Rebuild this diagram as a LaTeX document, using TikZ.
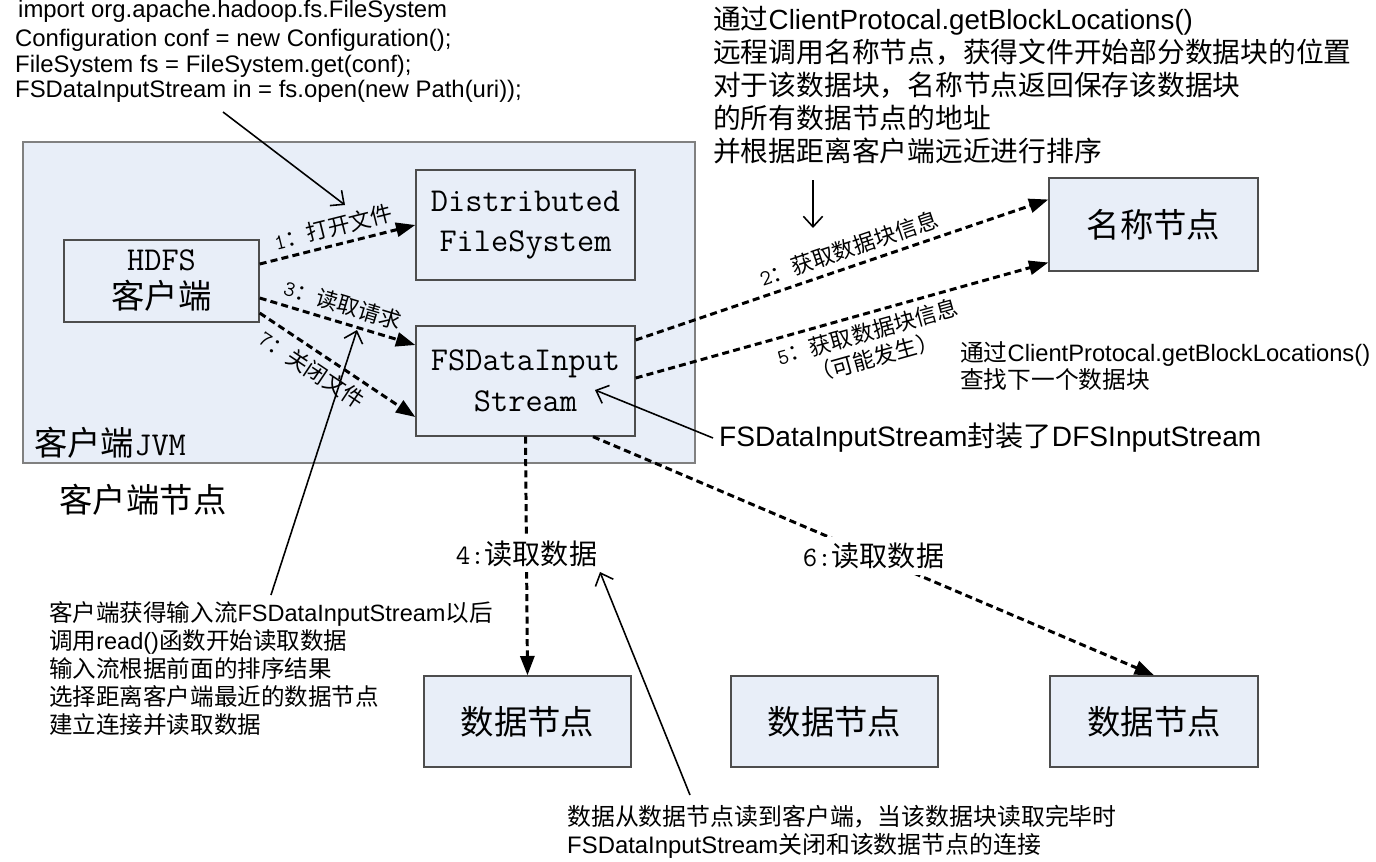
\documentclass[tikz,border=0pt]{standalone}
\usepackage{fontspec}
\setmainfont{Liberation Sans}
\newfontfamily\cjk{Noto Sans CJK SC}
\usetikzlibrary{arrows.meta,calc,positioning}
\definecolor{boxfill}{HTML}{E8EEF8}
\definecolor{boxline}{HTML}{4D4D4D}
\definecolor{jvmline}{HTML}{808080}
\newcommand{\latn}[1]{{\rmfamily #1}}
\newcommand{\monotxt}[1]{{\ttfamily #1}}
\tikzset{
  box/.style={draw=boxline, fill=boxfill, line width=0.8pt, align=center,
    font=\cjk\fontsize{19}{21.6}\selectfont},
  flow/.style={line width=1.7pt, dash pattern=on 4pt off 2.4pt,
    -{Triangle[length=11pt,width=8pt]}},
  note/.style={line width=0.9pt, -{Straight Barb[length=6pt,width=11pt]}},
  lbl/.style={font=\cjk\fontsize{12.5}{15}\selectfont, inner sep=3.5pt},
  readlbl/.style={fill=white, font=\cjk\fontsize{16}{18}\selectfont},
}

\begin{document}
\begin{tikzpicture}[x=0.02cm, y=-0.02cm]
\useasboundingbox (0,0) rectangle (1376,862);
% client JVM
\draw[draw=jvmline, fill=boxfill, line width=0.8pt] (23,142) rectangle (695,463);
\node[anchor=west, font=\cjk\fontsize{19}{22}\selectfont] (jvm) at (28,443) {客户端\monotxt{JVM}};
\node[font=\cjk\fontsize{19}{22}\selectfont] (clientnode) at (143,500) {客户端节点};

% boxes
\node[box, minimum width=3.9cm, minimum height=1.64cm] (client) at (161.5,281) {\monotxt{HDFS}\\客户端};
\node[box, minimum width=4.38cm, minimum height=2.2cm,
  font=\ttfamily\fontsize{19}{22.8}\selectfont] (dfs) at (525.5,225) {Distributed\\FileSystem};
\node[box, minimum width=4.38cm, minimum height=2.2cm,
  font=\ttfamily\fontsize{19}{23.4}\selectfont] (fsd) at (525.5,381) {FSDataInput\\Stream};
\node[box, minimum width=4.18cm, minimum height=1.86cm] (namenode) at (1153.5,224.5) {名称节点};
\node[box, minimum width=4.14cm, minimum height=1.82cm] (dn1) at (527.5,721.5) {数据节点};
\node[box, minimum width=4.14cm, minimum height=1.82cm] (dn2) at (834.5,721.5) {数据节点};
\node[box, minimum width=4.16cm, minimum height=1.82cm] (dn3) at (1154,721.5) {数据节点};

% steps
\draw[flow] ($(client.east)+(0,-17)$) -- node[lbl, above, sloped] {\monotxt{1}：打开文件} (dfs.west);
\draw[flow] ($(client.east)+(0,17)$) -- node[lbl, above, sloped] {\monotxt{3}：读取请求} ($(fsd.west)+(0,-36)$);
\draw[flow] ($(client.east)+(0,32)$) -- node[lbl, below, sloped, pos=0.4] {\monotxt{7}：关闭文件} ($(fsd.west)+(0,36)$);
\draw[flow] ($(fsd.east)+(0,-41)$) -- node[lbl, above, sloped, pos=0.53] {\monotxt{2}：获取数据块信息} ($(namenode.west)+(0,-25)$);
\draw[flow] ($(fsd.east)+(0,-3)$) -- node[lbl, below, sloped, pos=0.55, align=center] {\monotxt{5}：获取数据块信息\\（可能发生）} ($(namenode.west)+(0,38)$);
\draw[flow] (fsd.south) -- node[readlbl, pos=0.49] {\monotxt{4:}读取数据} (dn1.north);
\draw[flow] ($(fsd.south)+(67.5,0)$) -- node[readlbl, pos=0.5] {\monotxt{6:}读取数据} (dn3.north);

% notes
\node[anchor=base west, font=\fontsize{13.6}{15}\selectfont] (imp) at (12,17) {import org.apache.hadoop.fs.FileSystem};
\node[anchor=west, align=left, font=\fontsize{13.6}{14.6}\selectfont] (code) at (9,66)
  {Configuration conf = new Configuration();\\FileSystem fs = FileSystem.get(conf);\\FSDataInputStream in = fs.open(new Path(uri));};
\node[anchor=west, align=left, font=\cjk\fontsize{15.8}{18.7}\selectfont] (locnote) at (707,85)
  {通过\latn{ClientProtocal.getBlockLocations()}\\远程调用名称节点，获得文件开始部分数据块的位置\\对于该数据块，名称节点返回保存该数据块\\的所有数据节点的地址\\并根据距离客户端远近进行排序};
\node[anchor=west, align=left, font=\cjk\fontsize{13.5}{15.4}\selectfont] (nextnote) at (954,366.5)
  {通过\latn{ClientProtocal.getBlockLocations()}\\查找下一个数据块};
\node[anchor=west, font=\cjk\fontsize{16}{18}\selectfont] (wrap) at (713,438) {\latn{FSDataInputStream}封装了\latn{DFSInputStream}};
\node[anchor=west, align=left, font=\cjk\fontsize{13.4}{16}\selectfont] (readnote) at (43,668.5)
  {客户端获得输入流\latn{FSDataInputStream}以后\\调用\latn{read()}函数开始读取数据\\输入流根据前面的排序结果\\选择距离客户端最近的数据节点\\建立连接并读取数据};
\node[anchor=west, align=left, font=\cjk\fontsize{13.6}{16}\selectfont] (closenote) at (561,832)
  {数据从数据节点读到客户端，当该数据块读取完毕时\\\latn{FSDataInputStream}关闭和该数据节点的连接};

% pointers
\coordinate (codetip) at (345,205);
\coordinate (loctip) at (813,228);
\coordinate (readtip) at (357,330);
\coordinate (closetip) at (600,572);
\coordinate (streamtip) at (595,390);
\draw[note] (223,112) -- (codetip);
\draw[note] (813,180) -- (loctip);
\draw[note] (wrap.west) -- (streamtip);
\draw[note] (readnote.north) -- (readtip);
\draw[note] (690,795) -- (closetip);
\end{tikzpicture}
\end{document}
